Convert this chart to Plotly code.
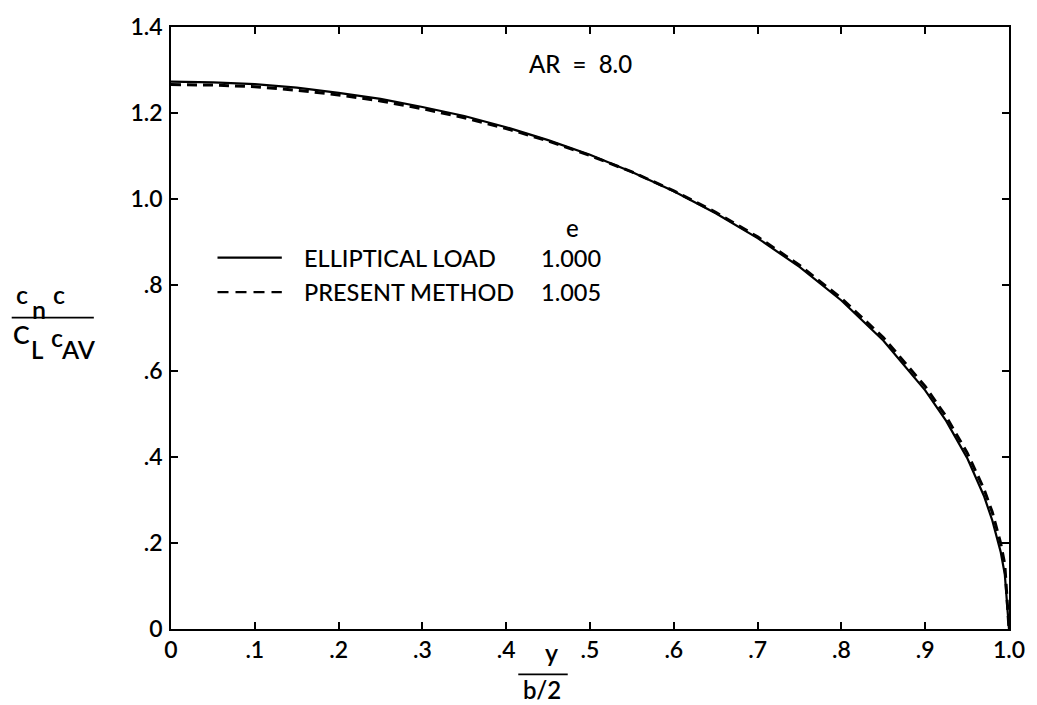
import plotly.graph_objects as go

# Spanwise station y/(b/2)
span = [0.0, 0.05, 0.10, 0.15, 0.20, 0.25, 0.30, 0.35, 0.40, 0.45, 0.50,
        0.55, 0.60, 0.65, 0.70, 0.75, 0.80, 0.85, 0.90, 0.925, 0.95,
        0.97, 0.98, 0.99, 0.995, 1.0]

# Span load distribution cn*c / (CL*cAV)
elliptical_load = [1.273, 1.271, 1.267, 1.259, 1.247, 1.233, 1.214, 1.193,
                   1.167, 1.137, 1.103, 1.063, 1.018, 0.967, 0.909, 0.842,
                   0.764, 0.671, 0.555, 0.484, 0.398, 0.310, 0.253, 0.180,
                   0.127, 0.0]
present_method = [1.266, 1.265, 1.261, 1.253, 1.242, 1.228, 1.210, 1.189,
                  1.164, 1.135, 1.101, 1.063, 1.019, 0.969, 0.912, 0.846,
                  0.769, 0.678, 0.564, 0.494, 0.410, 0.326, 0.272, 0.200,
                  0.150, 0.0]

x_ticks = [0.0, 0.1, 0.2, 0.3, 0.4, 0.5, 0.6, 0.7, 0.8, 0.9, 1.0]
x_tick_labels = ["0", ".1", ".2", ".3", ".4", ".5", ".6", ".7", ".8", ".9", "1.0"]
y_ticks = [0.0, 0.2, 0.4, 0.6, 0.8, 1.0, 1.2, 1.4]
y_tick_labels = ["0", ".2", ".4", ".6", ".8", "1.0", "1.2", "1.4"]

legend_names = ["ELLIPTICAL LOAD", "PRESENT METHOD"]
efficiency = ["1.000", "1.005"]

FONT = "Lato"
WEIGHT = 500
W, H = 1037, 705
L, R, T, B = 171, 19, 18, 76
PW, PH = W - L - R, H - T - B


def px(x):
    return (x - L) / PW


def py(y):
    return (H - B - y) / PH


fig = go.Figure()
fig.add_trace(go.Scatter(x=span, y=elliptical_load, mode="lines",
                         line=dict(color="black", width=2.2),
                         cliponaxis=False, name=legend_names[0]))
fig.add_trace(go.Scatter(x=span, y=present_method, mode="lines",
                         line=dict(color="black", width=3, dash="10px,6px"),
                         cliponaxis=False, name=legend_names[1]))

axis_common = dict(showline=True, linecolor="black", linewidth=1.5,
                   mirror="ticks", ticks="inside", ticklen=7, tickwidth=1.8,
                   tickcolor="black", showgrid=False, zeroline=False,
                   tickfont=dict(family=FONT, size=23, color="black",
                                 weight=600))

fig.update_layout(
    width=W, height=H,
    margin=dict(l=L, r=R, t=T, b=B),
    paper_bgcolor="white", plot_bgcolor="white",
    showlegend=False,
    xaxis=dict(range=[0, 1.0], tickvals=x_ticks, ticktext=x_tick_labels,
               **axis_common),
    yaxis=dict(range=[0, 1.4], tickvals=y_ticks, ticktext=y_tick_labels,
               ticklabelstandoff=2, **axis_common),
)

ann = []


def text(s, x, y, size=22, xanchor="center", weight=WEIGHT):
    ann.append(dict(text=s, x=px(x), y=py(y), xref="paper", yref="paper",
                    xanchor=xanchor, yanchor="middle", showarrow=False,
                    font=dict(family=FONT, size=size, color="black",
                              weight=weight)))


# aspect ratio label
text("AR  =  8.0", 585, 55, size=24)

# legend block
text("e", 577, 222, size=24)
text(legend_names[0], 303, 252, size=23.5, xanchor="left")
text(legend_names[1], 303, 287, size=23.5, xanchor="left")
text(efficiency[0], 543, 252, size=23.5, xanchor="left")
text(efficiency[1], 543, 287, size=23.5, xanchor="left")

# y-axis title: cn c / (CL cAV)
text("c", 20, 289, size=25, weight=600)
text("n", 38, 304, size=25, weight=600)
text("c", 58, 289, size=25, weight=600)
text("C", 20, 330, size=25, weight=600)
text("L", 36, 345, size=24, weight=600)
text("c", 56, 333, size=25, weight=600)
text("AV", 78, 345, size=25, weight=600)

# x-axis title: y / (b/2)
text("y", 556, 652, size=25, weight=600)
text("b/2", 546, 690, size=24, weight=600)

fig.update_layout(annotations=ann)

shapes = [
    # legend keys
    dict(type="line", xref="paper", yref="paper", x0=px(218), x1=px(283),
         y0=py(252), y1=py(252), line=dict(color="black", width=2.2)),
    dict(type="line", xref="paper", yref="paper", x0=px(218), x1=px(283),
         y0=py(287), y1=py(287), line=dict(color="black", width=2.2,
                                           dash="11px,7px")),
    # fraction bars of the axis titles
    dict(type="line", xref="paper", yref="paper", x0=px(10), x1=px(93),
         y0=py(313), y1=py(313), line=dict(color="black", width=1.8)),
    dict(type="line", xref="paper", yref="paper", x0=px(522), x1=px(572),
         y0=py(675), y1=py(675), line=dict(color="black", width=1.8)),
]
fig.update_layout(shapes=shapes)

fig.write_html("out.html")
